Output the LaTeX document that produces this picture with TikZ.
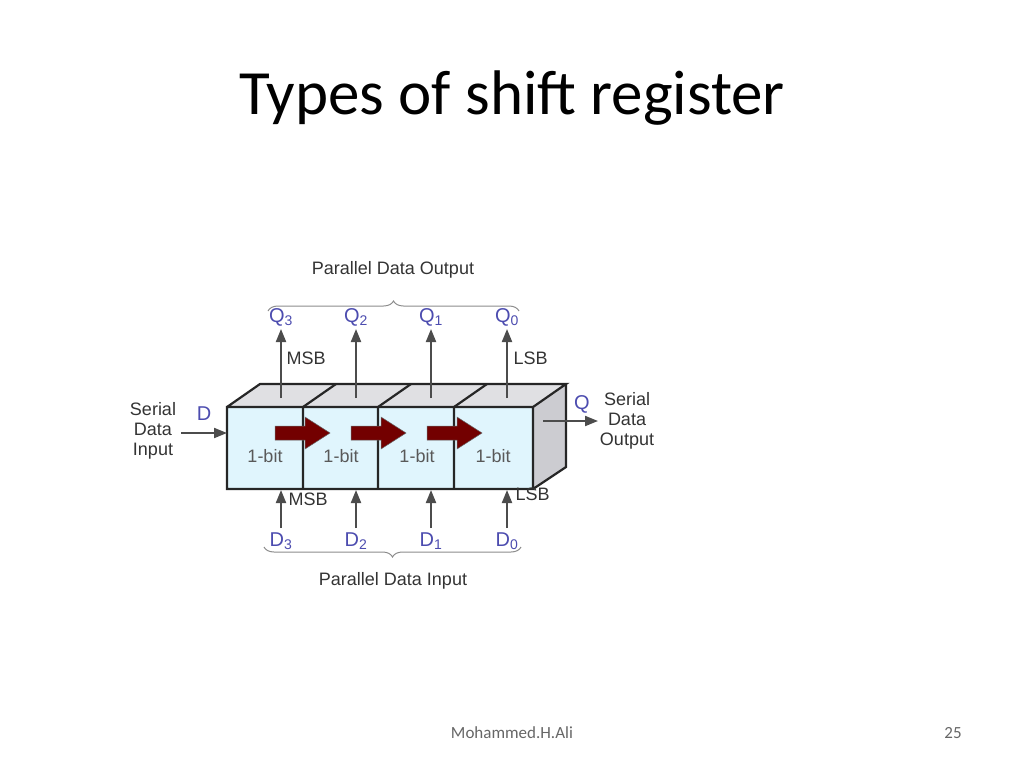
\documentclass[tikz,border=0pt]{standalone}
\usepackage{fontspec}
\setmainfont{Liberation Sans}
\newfontfamily\calib{Carlito}
\usetikzlibrary{decorations.pathreplacing,arrows.meta}
\begin{document}
\begin{tikzpicture}[x=1pt,y=-1pt,
  lbl/.style={font=\fontsize{18}{20}\selectfont,text=black!80},
  blu/.style={font=\fontsize{20}{20}\selectfont,text=blue!55!black!70!white},
  pin/.style={draw=black!70,line width=2pt,-{Triangle[length=13pt,width=10pt]}},
  brace/.style={draw=black!45,line width=1pt,decorate,decoration={brace,amplitude=10pt}},
  edge/.style={line width=2.2pt,black!85},
  bigarrow/.style={fill=red!45!black,draw=black!60,line width=0.5pt}]
\useasboundingbox (0,0) rectangle (1024,768);
\node[font=\calib\fontsize{63}{63}\selectfont] (title) at (512,98) {Types of shift register};
\node[font=\calib\fontsize{17}{17}\selectfont,text=black!60] (auth) at (512,733) {Mohammed.H.Ali};
\node[font=\calib\fontsize{17}{17}\selectfont,text=black!60] (pg) at (953,733) {25};
% box
\fill[blue!8!black!12] (227,407) -- (260,384) -- (566,384) -- (533,407) -- cycle;
\fill[blue!10!black!20] (533,407) -- (566,384) -- (566,467) -- (533,489) -- cycle;
\fill[cyan!12] (227,407) rectangle (533,489);
\draw[edge] (227,407) rectangle (533,489)
  (227,407) -- (260,384) -- (566,384) -- (533,407) (566,384) -- (566,467) -- (533,489);
\foreach \x/\b in {303/336,378/411,454/487}{
  \draw[edge] (\x,407) -- (\x,489) (\x,407) -- (\b,384);}
\foreach \x [count=\i] in {265,341,417,493}{
  \node[lbl,text=black!65] (bit\i) at (\x,456) {1-bit};}
\foreach \x in {275,351,427}{
  \draw[bigarrow] (\x,426) -- (\x+30,426) -- (\x+30,417) -- (\x+55,433) -- (\x+30,449) -- (\x+30,440) -- (\x,440) -- cycle;}
% top outputs
\foreach \x/\n [count=\i] in {281/3,356/2,431/1,507/0}{
  \coordinate (t\i) at (\x,398);
  \node[blu] (q\i) at (\x,317) {Q\textsubscript{\n}};
  \draw[pin] (t\i) -- (\x,329);
  \coordinate (b\i) at (\x,528);
  \node[blu] (d\i) at (\x,541) {D\textsubscript{\n}};
  \draw[pin] (b\i) -- (\x,490);
}
\node[lbl,anchor=west] (msbt) at (283,358) {MSB};
\node[lbl,anchor=west] (lsbt) at (510,358) {LSB};
\node[lbl,anchor=west] (msbb) at (285,499) {MSB};
\node[lbl,anchor=west] (lsbb) at (512,494) {LSB};
\draw[brace] (268,311) -- (519,311);
\draw[brace] (521,547) -- (264,547);
\node[lbl] (pdo) at (393,270) {Parallel Data Output};
\node[lbl] (pdi) at (393,581) {Parallel Data Input};
% serial
\node[lbl,align=center] (sin) at (153,431) {Serial\\Data\\Input};
\node[blu] (dl) at (204,414) {D};
\coordinate (sinend) at (227,433);
\draw[pin] (181,433) -- (sinend);
\node[lbl,align=center] (sout) at (627,421) {Serial\\Data\\Output};
\node[blu] (ql) at (582,404) {Q};
\coordinate (soutst) at (543,421);
\coordinate (soutend) at (598,421);
\draw[pin] (soutst) -- (soutend);
\end{tikzpicture}
\end{document}
